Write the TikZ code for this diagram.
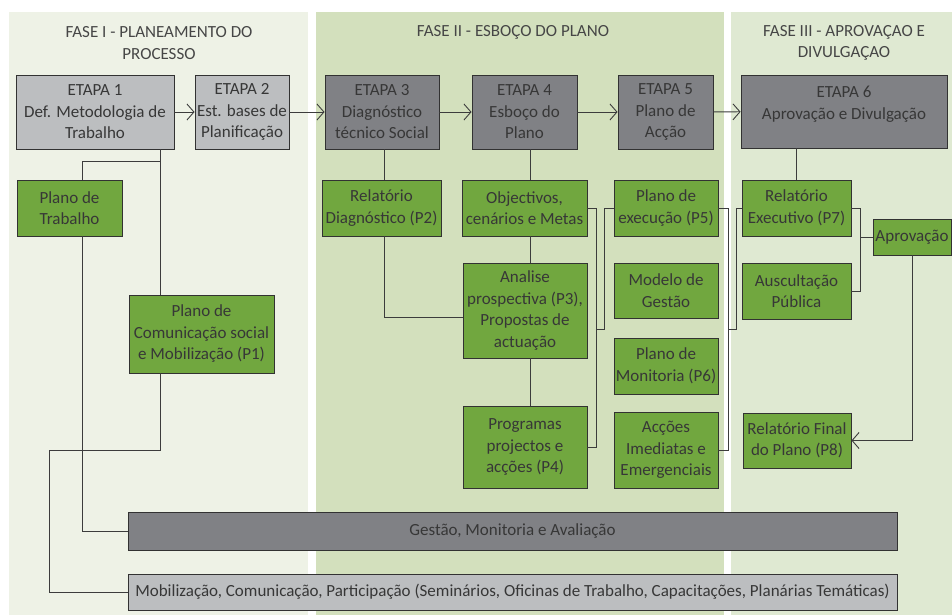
\documentclass[tikz,border=0pt]{standalone}
\usepackage{fontspec}
\setmainfont{Carlito}
\usetikzlibrary{arrows.meta}
\definecolor{bgone}{RGB}{238,242,230}
\definecolor{bgtwo}{RGB}{211,224,189}
\definecolor{bgthree}{RGB}{223,233,210}
\definecolor{lgrayc}{RGB}{188,190,192}
\definecolor{dgrayc}{RGB}{128,129,133}
\definecolor{greenc}{RGB}{113,167,63}
\definecolor{boxline}{RGB}{50,50,50}
\definecolor{linec}{RGB}{60,60,60}
\definecolor{txt}{RGB}{55,55,55}
\definecolor{titc}{RGB}{70,70,70}
\tikzset{
  box/.style={draw=boxline, line width=0.9pt, align=center, inner sep=1pt,
    text=txt, font=\fontsize{17}{21.5}\selectfont},
  lbox/.style={box, fill=lgrayc},
  dbox/.style={box, fill=dgrayc},
  gbox/.style={box, fill=greenc},
  link/.style={draw=linec, line width=0.9pt},
  flow/.style={link, -{Straight Barb[length=7pt,width=16pt]}},
  phasetitle/.style={text=titc, align=center, font=\fontsize{17}{21.5}\selectfont},
}
\begin{document}
\begin{tikzpicture}[x=1pt,y=-1pt]
\useasboundingbox (0,0) rectangle (952,615);
% phase panels
\fill[bgone] (9,12) rectangle (308,615);
\fill[bgtwo] (316,12) rectangle (724,615);
\fill[bgthree] (731,12) rectangle (952,615);

% phase titles
\node[phasetitle] (t1) at (159,43) {FASE I - PLANEAMENTO DO\\PROCESSO};
\node[phasetitle] (t2) at (513,32) {FASE II - ESBOÇO DO PLANO};
\node[phasetitle] (t3) at (844,43) {FASE III - APROVAÇAO E\\DIVULGAÇAO};

% stages
\node[lbox, minimum width=158, minimum height=74] (E1) at (95,112) {ETAPA 1\\Def. Metodologia de\\Trabalho};
\node[lbox, minimum width=94, minimum height=74] (E2) at (242,112) {ETAPA 2\\Est. bases de\\Planificação};
\node[dbox, minimum width=114, minimum height=74] (E3) at (382,112) {ETAPA 3\\Diagnóstico\\técnico Social};
\node[dbox, minimum width=105, minimum height=74] (E4) at (524.5,112) {ETAPA 4\\Esboço do\\Plano};
\node[dbox, minimum width=95, minimum height=74] (E5) at (665.5,112) {ETAPA 5\\Plano de\\Acção};
\node[dbox, minimum width=206, minimum height=73, text depth=17pt] (E6) at (844,111.5) {ETAPA 6\\Aprovação e Divulgação};

% products
\node[gbox, minimum width=105, minimum height=56] (PT) at (69.5,208) {Plano de\\Trabalho};
\node[gbox, minimum width=145, minimum height=78] (PC) at (201.5,334) {Plano de\\Comunicação social\\e Mobilização (P1)};
\node[gbox, minimum width=119, minimum height=56] (RD) at (381.5,208) {Relatório\\Diagnóstico (P2)};
\node[gbox, minimum width=125, minimum height=56] (OB) at (524.5,208) {Objectivos,\\cenários e Metas};
\node[gbox, minimum width=124, minimum height=95] (AN) at (525,310.5) {Analise\\prospectiva (P3),\\Propostas de\\actuação};
\node[gbox, minimum width=124, minimum height=82] (PR) at (525,447) {Programas\\projectos e\\acções (P4)};
\node[gbox, minimum width=104, minimum height=56] (PE) at (666,208) {Plano de\\execução (P5)};
\node[gbox, minimum width=104, minimum height=55] (MG) at (666,290.5) {Modelo de\\Gestão};
\node[gbox, minimum width=104, minimum height=56] (PM) at (666,366) {Plano de\\Monitoria (P6)};
\node[gbox, minimum width=104, minimum height=76] (AI) at (666,450) {Acções\\Imediatas e\\Emergenciais};
\node[gbox, minimum width=109, minimum height=56] (RE) at (796.5,208) {Relatório\\Executivo (P7)};
\node[gbox, minimum width=109, minimum height=56] (AP) at (796.5,291) {Auscultação\\Pública};
\node[gbox, minimum width=78, minimum height=36] (APV) at (912,237) {Aprovação};
\node[gbox, minimum width=108, minimum height=55] (RF) at (797,440.5) {Relatório Final\\do Plano (P8)};

% transversal bars
\node[dbox, minimum width=769, minimum height=38] (GM) at (512.5,531) {Gestão, Monitoria e Avaliação};
\node[lbox, minimum width=769, minimum height=36] (MB) at (512.5,592) {Mobilização, Comunicação, Participação (Seminários, Oficinas de Trabalho, Capacitações, Planárias Temáticas)};

% stage sequence
\draw[flow] (E1) -- (E2);
\draw[flow] (E2) -- (E3);
\draw[flow] (E3) -- (E4);
\draw[flow] (E4) -- (E5);
\draw[flow] (E5) -- (E6);

% routing columns and rows
\coordinate (xa) at (160,0);
\coordinate (xb) at (82,0);
\coordinate (xc) at (49,0);
\coordinate (xd) at (384,0);
\coordinate (xe) at (530,0);
\coordinate (xf) at (596,0);
\coordinate (xg) at (604,0);
\coordinate (xh) at (728,0);
\coordinate (xi) at (736,0);
\coordinate (xj) at (860,0);
\coordinate (ya) at (0,161);
\coordinate (yb) at (0,450);
\coordinate (yc) at (0,317);
\coordinate (ym) at (0,329);

% phase I links
\draw[link] (E1.south -| xa) -- (PC.north -| xa);
\draw[link] (xa |- ya) -| (PT.north -| xb);
\draw[link] (PT.south -| xb) |- (GM.west);
\draw[link] (PC.south -| xa) |- (xc |- yb) |- (MB.west);

% phase II links
\draw[link] (E3.south -| xd) -- (RD.north -| xd);
\draw[link] (RD.south -| xd) |- (AN.west |- yc);
\draw[link] (E4.south -| xe) -- (OB.north -| xe);
\draw[link] (OB.south -| xe) -- (AN.north -| xe);
\draw[link] (AN.south -| xe) -- (PR.north -| xe);
\draw[link] (OB.east) -| (xf |- PR.east) -- (PR.east);
\draw[link] (xf |- ym) -- (xg |- ym) |- (PE.west);
\draw[link] (PE.east) -| (xh |- AI.east) -- (AI.east);
\draw[link] (xh |- ym) -- (xi |- ym) |- (RE.west);

% phase III links
\draw[link] (E6.south -| RE.north) -- (RE.north);
\draw[link] (RE.east) -| (xj |- AP.east) -- (AP.east);
\draw[link] (xj |- APV.west) -- (APV.west);
\draw[flow] (APV.south) |- (RF.east);
\end{tikzpicture}
\end{document}
